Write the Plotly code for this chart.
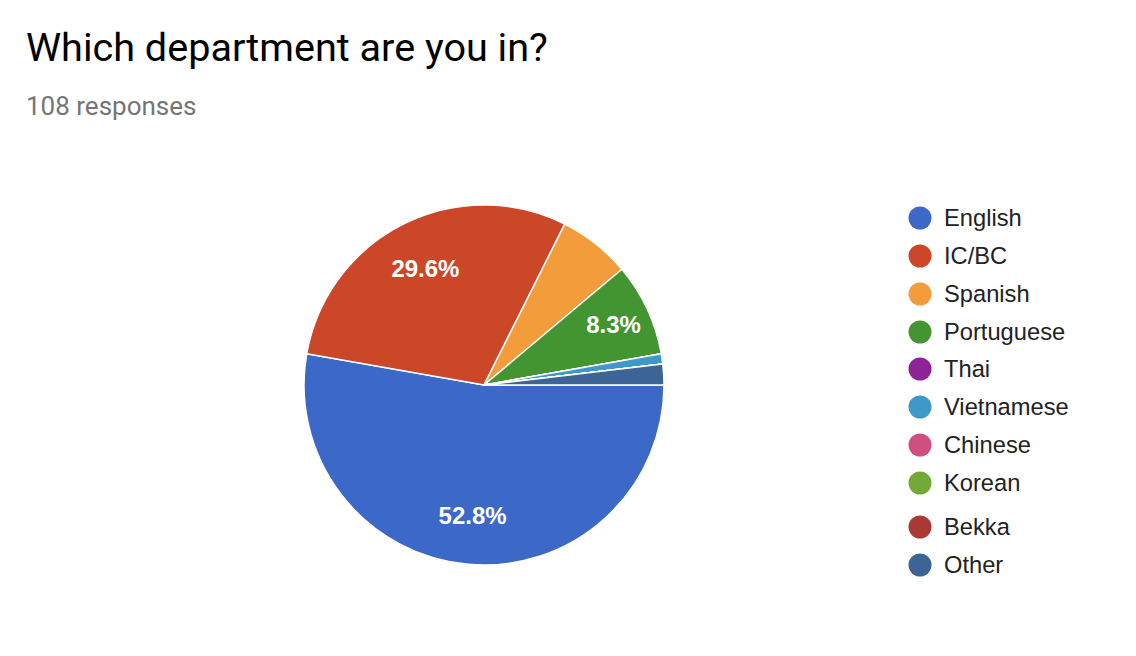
import plotly.graph_objects as go

# Data
categories = ["English", "IC/BC", "Spanish", "Portuguese", "Thai",
              "Vietnamese", "Chinese", "Korean", "Bekka", "Other"]
counts = [57, 32, 7, 9, 0, 1, 0, 0, 0, 2]
colors = ["#3c68c8", "#cc4727", "#f39c3b", "#429530", "#8e2398",
          "#3e99c8", "#cf5080", "#73a935", "#aa3934", "#3c6595"]
title_text = "Which department are you in?"
subtitle_text = "108 responses"

W, H = 1136, 656
total = sum(counts)
labels_text = [f"{100*c/total:.1f}%" if c / total >= 0.08 else "" for c in counts]

# pie geometry (pixels)
cx, cy, r = 484, 385, 180
pie_domain = dict(x=[(cx - r) / W, (cx + r) / W], y=[1 - (cy + r) / H, 1 - (cy - r) / H])

fig = go.Figure()
# coloured slices
fig.add_trace(go.Pie(
    labels=categories, values=counts,
    textinfo="none", sort=False, direction="clockwise", rotation=90,
    marker=dict(colors=colors, line=dict(color="white", width=1.5)),
    showlegend=False, hoverinfo="label+percent", domain=pie_domain,
))
# transparent ring that carries the percentage labels further out
fig.add_trace(go.Pie(
    labels=categories, values=counts, text=labels_text, hole=0.45,
    textinfo="text", textposition="inside", insidetextorientation="horizontal",
    sort=False, direction="clockwise", rotation=90,
    marker=dict(colors=["rgba(0,0,0,0)"] * len(counts), line=dict(width=0)),
    textfont=dict(family="Liberation Sans, Arial", size=24, color="white", weight="bold"),
    showlegend=False, hoverinfo="skip", domain=pie_domain,
))

def px(x):
    return x / W

def py(y):
    return 1 - y / H

shapes = []
annotations = []
# legend (layout)
legend_x = 920
legend_rows = [218, 256, 294, 332, 369, 407, 445, 483, 527, 565]
rad = 11.5
for name, col, yy in zip(categories, colors, legend_rows):
    shapes.append(dict(type="circle", xref="paper", yref="paper",
                       x0=px(legend_x - rad), x1=px(legend_x + rad),
                       y0=py(yy + rad), y1=py(yy - rad),
                       fillcolor=col, line=dict(width=0)))
    annotations.append(dict(x=px(942), y=py(yy), xref="paper", yref="paper",
                            text=name, showarrow=False, xanchor="left", yanchor="middle",
                            font=dict(family="Liberation Sans, Arial", size=23.7, color="#222222")))

annotations.append(dict(x=px(24), y=py(48), xref="paper", yref="paper", text=title_text,
                        showarrow=False, xanchor="left", yanchor="middle",
                        font=dict(family="Roboto", size=39.6, color="#000000")))
annotations.append(dict(x=px(24), y=py(106), xref="paper", yref="paper", text=subtitle_text,
                        showarrow=False, xanchor="left", yanchor="middle",
                        font=dict(family="Roboto", size=26, color="#757575")))

fig.update_layout(
    width=W, height=H, margin=dict(l=0, r=0, t=0, b=0),
    paper_bgcolor="white", plot_bgcolor="white",
    shapes=shapes, annotations=annotations,
)
fig.write_html("out.html", config={"displayModeBar": False},
               post_script="document.body.style.margin='0';")
